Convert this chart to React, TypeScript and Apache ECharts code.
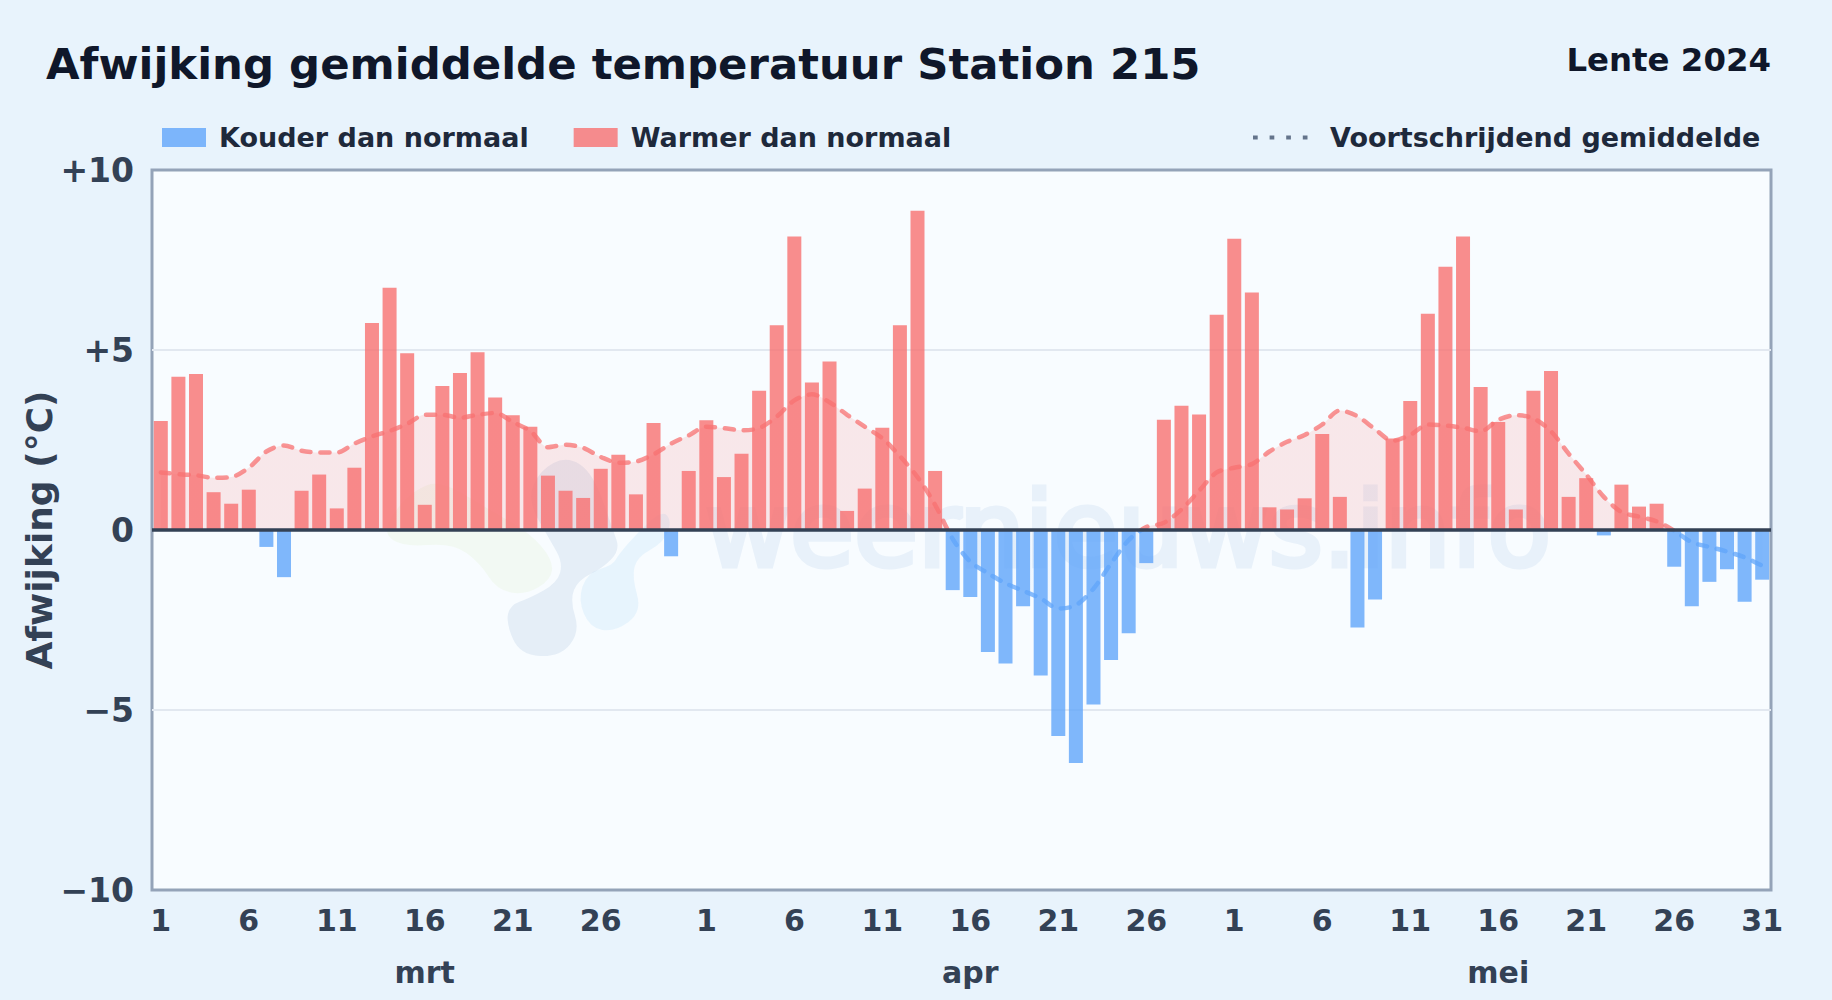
import React, { useEffect, useRef } from "react";
import * as echarts from "echarts";

const FONT = "DejaVu Sans";
const RED = "#f87171";
const BLUE = "#60a5fa";

// Daily deviation from normal (°C)
const marchDeviation = [3.03, 4.26, 4.33, 1.05, 0.73, 1.12, -0.47, -1.31, 1.09, 1.54, 0.6, 1.73, 5.75, 6.73, 4.91, 0.7, 4.0, 4.36, 4.94, 3.68, 3.19, 2.87, 1.51, 1.09, 0.89, 1.7, 2.09, 0.99, 2.97, -0.73, 1.64];
const aprilDeviation = [3.05, 1.47, 2.12, 3.87, 5.69, 8.15, 4.1, 4.68, 0.53, 1.15, 2.84, 5.69, 8.87, 1.64, -1.67, -1.86, -3.39, -3.71, -2.12, -4.04, -5.72, -6.47, -4.85, -3.61, -2.87, -0.92, 3.06, 3.45, 3.21, 5.98];
const mayDeviation = [8.09, 6.6, 0.63, 0.57, 0.88, 2.67, 0.92, -2.71, -1.93, 2.54, 3.58, 6.01, 7.31, 8.15, 3.97, 3.0, 0.57, 3.87, 4.42, 0.92, 1.44, -0.15, 1.26, 0.65, 0.73, -1.02, -2.12, -1.44, -1.09, -1.99, -1.38];

// Moving average (°C)
const marchAverage = [1.6, 1.55, 1.52, 1.45, 1.47, 1.73, 2.18, 2.35, 2.2, 2.15, 2.15, 2.4, 2.6, 2.75, 2.95, 3.2, 3.2, 3.12, 3.2, 3.25, 3.0, 2.75, 2.3, 2.37, 2.28, 2.03, 1.87, 1.9, 2.1, 2.4, 2.63];
const aprilAverage = [2.87, 2.83, 2.77, 2.83, 3.15, 3.6, 3.77, 3.55, 3.2, 2.87, 2.55, 2.05, 1.47, 0.7, -0.25, -0.88, -1.2, -1.48, -1.69, -1.9, -2.18, -2.09, -1.63, -0.93, -0.28, 0.08, 0.2, 0.57, 1.09, 1.6];
const mayAverage = [1.73, 1.83, 2.18, 2.45, 2.64, 2.93, 3.32, 3.16, 2.8, 2.48, 2.64, 2.93, 2.9, 2.84, 2.74, 3.06, 3.19, 3.1, 2.74, 2.12, 1.54, 0.92, 0.5, 0.37, 0.24, -0.02, -0.34, -0.47, -0.6, -0.76, -0.99];

const monthLengths = [31, 30, 31];
const monthNames = ["mrt", "apr", "mei"];
const monthLabelDays = [16, 16, 16];
const labelledDays = [1, 6, 11, 16, 21, 26, 31];

const deviation = [...marchDeviation, ...aprilDeviation, ...mayDeviation];
const average = [...marchAverage, ...aprilAverage, ...mayAverage];
const days: string[] = [];
const months: string[] = [];
monthLengths.forEach((len, m) => {
  for (let d = 1; d <= len; d++) {
    const showDay = labelledDays.includes(d) && (d !== 31 || m === 2);
    days.push(showDay ? String(d) : "");
    months.push(d === monthLabelDays[m] ? monthNames[m] : "");
  }
});
const coldValues = deviation.map((v) => (v < 0 ? v : null));
const warmValues = deviation.map((v) => (v >= 0 ? v : null));

const closedSmooth = (pts: number[][]) => {
  const mid = (a: number[], b: number[]) => [(a[0] + b[0]) / 2, (a[1] + b[1]) / 2];
  const n = pts.length;
  const s = mid(pts[n - 1], pts[0]);
  let d = `M${s[0]} ${s[1]}`;
  pts.forEach((p, i) => {
    const m = mid(p, pts[(i + 1) % n]);
    d += `Q${p[0]} ${p[1]} ${m[0]} ${m[1]}`;
  });
  return d + "Z";
};

const logoBody = [[506, 623], [520, 655], [560, 657], [580, 632], [570, 600], [578, 580], [603, 568], [620, 550], [613, 530], [593, 473], [567, 456], [540, 470], [527, 500], [550, 540], [563, 563], [557, 583], [530, 598], [510, 605]];
const logoGreen = [[383, 533], [403, 547], [453, 543], [480, 563], [497, 590], [525, 595], [551, 580], [553, 560], [530, 533], [490, 510], [440, 480], [415, 490], [395, 510]];
const logoLight = [[578, 600], [590, 628], [615, 632], [642, 612], [632, 577], [637, 557], [663, 543], [672, 522], [663, 510], [640, 530], [618, 555], [613, 565], [587, 573]];

echarts.graphic.registerShape("logoBody", echarts.graphic.extendPath(closedSmooth(logoBody) as any, {} as any) as any);
echarts.graphic.registerShape("logoGreen", echarts.graphic.extendPath(closedSmooth(logoGreen) as any, {} as any) as any);
echarts.graphic.registerShape("logoLight", echarts.graphic.extendPath(closedSmooth(logoLight) as any, {} as any) as any);

const option: any = {
  animation: false,
  backgroundColor: "#e8f3fc",
  textStyle: { fontFamily: FONT },
  title: [
    { text: "Afwijking gemiddelde temperatuur Station 215", left: 46, top: 42, padding: 0, textStyle: { fontFamily: FONT, fontSize: 43.4, fontWeight: "bold", color: "#0f172a" } },
    { text: "Lente 2024", right: 61, top: 44, padding: 0, textStyle: { fontFamily: FONT, fontSize: 32.4, fontWeight: "bold", color: "#0f172a" } },
  ],
  legend: [
    {
      left: 162, top: 124, padding: 0, itemWidth: 44, itemHeight: 19, itemGap: 45, selectedMode: false,
      data: [{ name: "Kouder dan normaal", icon: "rect" }, { name: "Warmer dan normaal", icon: "rect" }],
      textStyle: { fontFamily: FONT, fontSize: 27, fontWeight: "bold", color: "#1e293b", padding: [0, 0, 0, 8] },
    },
    {
      left: 1251, top: 124, padding: 0, itemWidth: 55, itemHeight: 19, selectedMode: false,
      data: [{ name: "Voortschrijdend gemiddelde", itemStyle: { color: "transparent", opacity: 0, borderWidth: 0 } }],
      lineStyle: { color: "#64748b", width: 4, type: [4.7, 11.9], cap: "butt", opacity: 1 },
      textStyle: { fontFamily: FONT, fontSize: 27, fontWeight: "bold", color: "#1e293b", padding: [0, 0, 0, 17] },
    },
  ],
  grid: { left: 152, right: 61, top: 170, bottom: 110, outerBoundsMode: "none", show: true, backgroundColor: "#f8fcff", borderColor: "#94a3b8", borderWidth: 3 },
  xAxis: [
    {
      type: "category", data: days, position: "bottom",
      axisLine: { show: false, onZero: false }, axisTick: { show: false }, splitLine: { show: false },
      axisLabel: { interval: (i: number) => days[i] !== "", margin: 15, fontFamily: FONT, fontSize: 30, fontWeight: "bold", color: "#334155", hideOverlap: false },
    },
    {
      type: "category", data: months, position: "bottom", offset: 52,
      axisLine: { show: false, onZero: false }, axisTick: { show: false }, splitLine: { show: false },
      axisLabel: { interval: (i: number) => months[i] !== "", margin: 15, fontFamily: FONT, fontSize: 30, fontWeight: "bold", color: "#334155", hideOverlap: false },
    },
  ],
  yAxis: {
    type: "value", min: -10, max: 10, interval: 5,
    name: "Afwijking (°C)", nameLocation: "middle", nameRotate: 90, nameGap: 95, nameMoveOverlap: false,
    nameTextStyle: { fontFamily: FONT, fontSize: 36, fontWeight: "bold", color: "#334155" },
    axisLine: { show: false }, axisTick: { show: false },
    splitLine: { showMinLine: false, showMaxLine: false, lineStyle: { color: "#e2e8f0", width: 2 } },
    axisLabel: {
      margin: 18, fontFamily: FONT, fontSize: 33, fontWeight: "bold", color: "#334155",
      formatter: (v: number) => (v > 0 ? `+${v}` : v < 0 ? `\u2212${-v}` : "0"),
    },
  },
  visualMap: [
    { show: false, seriesIndex: 3, dimension: 1, pieces: [{ gt: -50, lte: 0, color: BLUE }, { gt: 0, lte: 50, color: RED }] },
    { show: false, seriesIndex: 0, dimension: 1, pieces: [{ gt: -50, lte: 0, color: "rgba(96,165,250,0.05)" }, { gt: 0, lte: 50, color: "rgba(248,113,113,0.15)" }] },
  ],
  series: [
    {
      name: "Afwijking vlak", type: "line", data: average, smooth: 0.3, symbol: "none", z: 1,
      lineStyle: { width: 0 }, areaStyle: { opacity: 1 },
    },
    {
      name: "Kouder dan normaal", type: "bar", data: coldValues, stack: "dev", barWidth: 14,
      itemStyle: { color: BLUE, opacity: 0.8 }, z: 2,
    },
    {
      name: "Warmer dan normaal", type: "bar", data: warmValues, stack: "dev", barWidth: 14,
      itemStyle: { color: RED, opacity: 0.8 }, z: 2,
      markLine: {
        silent: true, symbol: "none", label: { show: false }, z: 5, animation: false,
        lineStyle: { color: "#334155", width: 3.5, type: "solid" }, data: [{ yAxis: 0 }],
      },
    },
    {
      name: "Voortschrijdend gemiddelde", type: "line", data: average, smooth: 0.3, symbol: "none", z: 4,
      lineStyle: { width: 4.5, type: [9, 10], cap: "round", opacity: 0.75 },
    },
  ],
  graphic: [
    { type: "logoBody", x: 0, y: 0, silent: true, z: 0, style: { fill: "rgba(40,100,170,0.09)" } },
    { type: "logoGreen", x: 0, y: 0, silent: true, z: 0, style: { fill: "rgba(190,220,120,0.09)" } },
    { type: "logoLight", x: 0, y: 0, silent: true, z: 0, style: { fill: "rgba(90,180,240,0.1)" } },
    {
      type: "text", x: 705, y: 478, silent: true, z: 0,
      style: { text: "weernieuws.info", fontFamily: FONT, fontSize: 104, fill: "#e8f1fa", stroke: "#e8f1fa", lineWidth: 5 },
    },
  ],
};

export default function App() {
  const ref = useRef<HTMLDivElement>(null);
  useEffect(() => {
    const chart = echarts.init(ref.current!, undefined, { renderer: "svg" });
    chart.setOption(option);
    return () => chart.dispose();
  }, []);
  return <div ref={ref} style={{ position: "fixed", left: 0, top: 0, width: 1832, height: 1000 }} />;
}
